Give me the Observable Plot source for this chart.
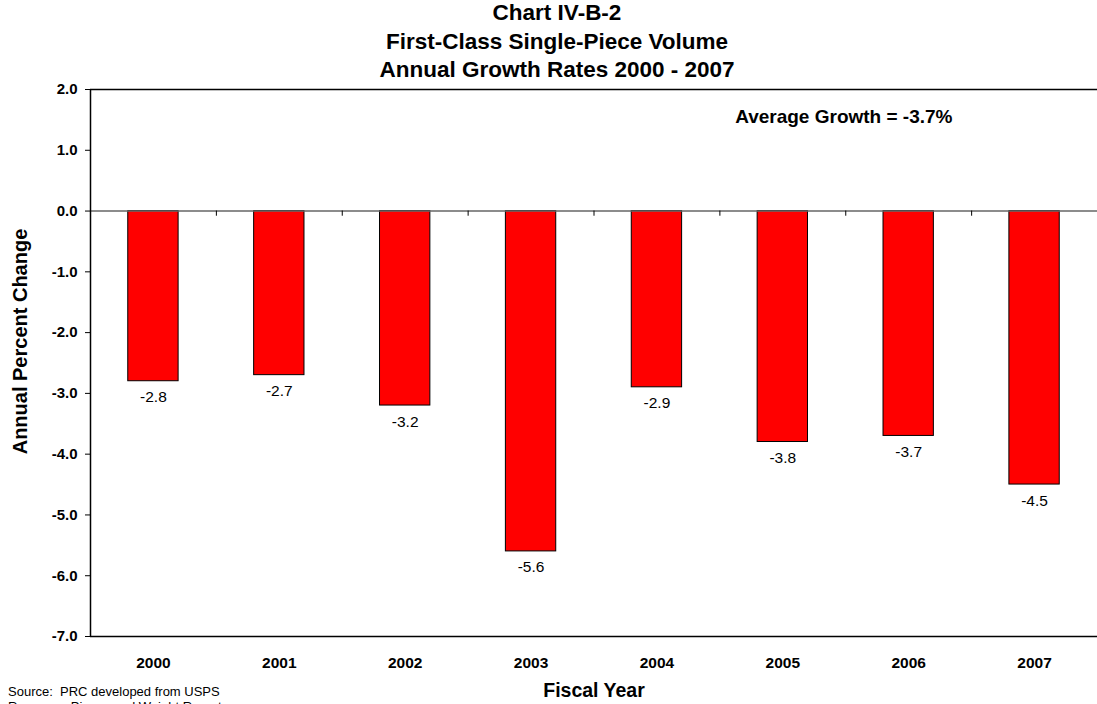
<!DOCTYPE html>
<html><head><meta charset="utf-8">
<script src="https://cdn.jsdelivr.net/npm/d3@7"></script>
<script src="https://cdn.jsdelivr.net/npm/@observablehq/plot@0.6"></script>
<style>
html,body{margin:0;padding:0;background:#fff;overflow:hidden;}
#wrap{position:relative;width:1097px;height:704px;font-family:"Liberation Sans",Arial,sans-serif;color:#000;}
#chart{position:absolute;left:0;top:0;}
#title{position:absolute;left:0;top:-1px;width:1114px;text-align:center;font-weight:bold;font-size:22.5px;line-height:28.5px;}
#note{position:absolute;left:8px;top:684px;font-size:13px;line-height:15px;white-space:nowrap;}
</style>
</head><body>
<div id="wrap">
  <div id="chart"></div>
  <div id="title">Chart IV-B-2<br>First-Class Single-Piece Volume<br>Annual Growth Rates 2000 - 2007</div>
  <div id="note">Source:&nbsp; PRC developed from USPS<br>Revenue,&nbsp; Pieces and Weight Reports</div>
</div>
<script>
const years = ["2000","2001","2002","2003","2004","2005","2006","2007"];
const growth = [-2.8,-2.7,-3.2,-5.6,-2.9,-3.8,-3.7,-4.5];
const yTicks = [2,1,0,-1,-2,-3,-4,-5,-6,-7];
const avgLabel = "Average Growth = -3.7%";
const yLabel = "Annual Percent Change";
const xLabel = "Fiscal Year";

const data = years.map((y,i)=>({year:y, value:growth[i]}));
const W = 1097, H = 704, mL = 90, mR = 0, mT = 89, mB = 68;
const pIn = 0.6, pOut = 0.3;
const step = (W - mL - mR) / (years.length - pIn + 2*pOut);
const font = '"Liberation Sans", Arial, sans-serif';

const chart = Plot.plot({
  width: W, height: H,
  marginLeft: mL, marginRight: mR, marginTop: mT, marginBottom: mB,
  style: {fontFamily: font, background: "white", color: "#000", overflow: "visible"},
  x: {domain: years, paddingInner: pIn, paddingOuter: pOut, round: false},
  y: {domain: [-7, 2]},
  marks: [
    Plot.barY(data, {x: "year", y: "value", fill: "#ff0000", stroke: "#000", strokeWidth: 1}),
    Plot.ruleY([0], {stroke: "#666", strokeWidth: 1.5}),
    Plot.ruleX(years.slice(1), {x: d => d, dx: -step/2, y1: 0, y2: -0.085, stroke: "#000", strokeWidth: 1}),
    Plot.ruleY([2, -7], {stroke: "#000", strokeWidth: 1.5}),
    Plot.ruleX(years.slice(0,1), {x: d => d, dx: -step/2, y1: 2, y2: -7, stroke: "#000", strokeWidth: 1.5}),
    Plot.text(data, {x: "year", y: "value", text: d => d.value.toFixed(1), dy: 16, fontSize: 15.5, fill: "#000"}),
    Plot.axisY({ticks: yTicks, tickFormat: d => d.toFixed(1), tickSize: 5, tickPadding: 8, fontWeight: "bold", fontSize: 15, label: null, stroke: "#000"}),
    Plot.axisX({tickSize: 0, tickPadding: 20, fontWeight: "bold", fontSize: 15.5, label: null}),
    Plot.text([xLabel], {frameAnchor: "bottom", text: d => d, lineAnchor: "top", dy: 47, fontSize: 19.5, fontWeight: "bold"}),
    Plot.text([yLabel], {frameAnchor: "left", text: d => d, textAnchor: "middle", rotate: -90, dx: -70, dy: -21.5, fontSize: 20, fontWeight: "bold"}),
    Plot.text([avgLabel], {frameAnchor: "top-right", text: d => d, textAnchor: "end", lineAnchor: "top", dx: -145, dy: 19.5, fontSize: 19, fontWeight: "bold"})
  ]
});
document.getElementById("chart").appendChild(chart);
</script>
</body></html>
